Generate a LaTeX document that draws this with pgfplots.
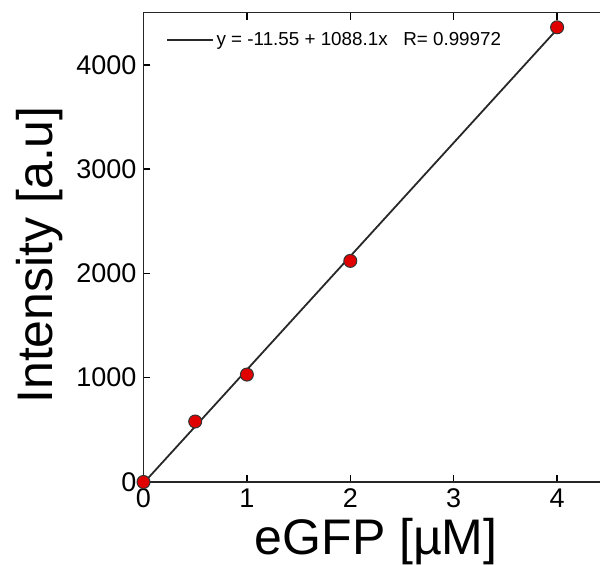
\documentclass[border=0pt]{standalone}
\usepackage{fontspec}
\setmainfont{Liberation Sans}
\usepackage{pgfplots}
\pgfplotsset{compat=1.18}
\definecolor{markred}{RGB}{225,0,0}
\definecolor{fitline}{RGB}{40,40,40}
\begin{document}
\begin{tikzpicture}
\begin{axis}[name=ax,scale only axis,width=232.65pt,height=234.65pt,
  xmin=0,xmax=4.5,ymin=0,ymax=4500,
  xtick={0,1,2,3,4},ytick={0,1000,2000,3000,4000},
  tick align=inside,major tick length=3.5pt,
  tick style={black,line width=0.7pt},
  axis line style={black!85,line width=0.8pt},
  scaled y ticks=false,
  /pgf/number format/assume math mode=true,
  /pgf/number format/1000 sep={},
  tick label style={font=\fontsize{13.5}{16}\selectfont},
  xlabel={eGFP [µM]},ylabel={Intensity [a.u]},
  label style={font=\fontsize{25}{30}\selectfont},
  xlabel style={at={(axis description cs:0.5,-0.1545)},anchor=base},
  ylabel style={at={(axis description cs:-0.1945,0.4837)},anchor=base},
  legend style={draw=none,fill=none,inner sep=0pt,
    font=\fontsize{9.4}{11}\selectfont,
    at={(axis description cs:0.0484,0.9418)},anchor=west,
    nodes={inner sep=1.2pt}},
  legend cell align=left,
  legend image code/.code={\draw[#1] (0pt,0pt) -- (23pt,0pt);}]
% linear fit y = -11.55 + 1088.1x, drawn over the measured range
\addplot[fitline,line width=0.9pt] coordinates {(0,-11.55) (4,4340.85)};
\addlegendentry{y = -11.55 + 1088.1x\ \ \ R= 0.99972}
\addplot[only marks,mark=*,mark size=3.25pt,
  mark options={fill=markred,draw=black!80,line width=0.5pt}] coordinates {
(0,0) (0.5,580) (1,1030) (2,2120) (4,4360)
};
\end{axis}
\pgfresetboundingbox
\useasboundingbox ([shift={(-71.75pt,-41.5pt)}]ax.south west) rectangle ++(300pt,282.5pt);
\end{tikzpicture}
\end{document}
